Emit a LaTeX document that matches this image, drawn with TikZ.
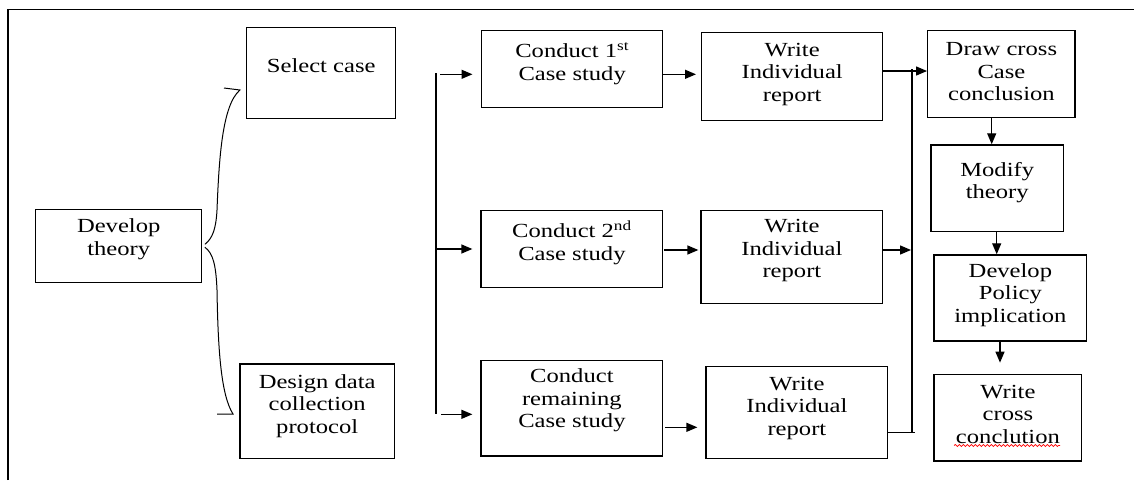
\documentclass[tikz,border=0pt]{standalone}
\usepackage{fontspec}
\setmainfont{Liberation Serif}[FakeStretch=1.23]
\usetikzlibrary{arrows.meta, positioning, decorations.pathmorphing}

\tikzset{
    box/.style={draw, line width=1.4pt, inner sep=0pt},
    txt/.style={align=center, inner sep=0pt, font=\fontsize{20}{22.5}\selectfont},
    ln/.style={line width=1.3pt},
    arr/.style={line width=1.3pt, -{Triangle[length=11pt, width=9pt]}},
    squig/.style={red, line width=0.7pt, decorate, decoration={snake, amplitude=1pt, segment length=4pt}},
}

\begin{document}
\begin{tikzpicture}[x=1pt, y=-1pt]
            \useasboundingbox (0, 0) rectangle (1134, 480);

            % frame
            \draw [line width=1.4pt] (8, 480) -- (8, 9.5) -- (1134, 9.5);

            % boxes
            \node [box, minimum width=166pt, minimum height=73pt] (theory) at (118.7, 245.8) {};
            \node [box, minimum width=149pt, minimum height=91.4pt] (select) at (321.2, 73) {};
            \node [box, minimum width=154.3pt, minimum height=94.3pt] (design) at (317.2, 411.2) {};

            \node [box, minimum width=181pt, minimum height=76.6pt] (study1) at (572.2, 69) {};
            \node [box, minimum width=181.7pt, minimum height=76.6pt] (study2) at (571.9, 249) {};
            \node [box, minimum width=181.7pt, minimum height=95.3pt] (studyR) at (571.9, 408.3) {};

            \node [box, minimum width=181pt, minimum height=88.4pt] (report1) at (792.2, 76.5) {};
            \node [box, minimum width=181.7pt, minimum height=92.6pt] (report2) at (791.9, 257) {};
            \node [box, minimum width=181.7pt, minimum height=91.6pt] (report3) at (796.9, 412.5) {};

            \node [box, minimum width=147.3pt, minimum height=86.6pt] (crossCase) at (1001.4, 74) {};
            \node [box, minimum width=132.3pt, minimum height=86.7pt] (modify) at (997.2, 188.3) {};
            \node [box, minimum width=152.7pt, minimum height=86pt] (policy) at (1010.4, 298) {};
            \node [box, minimum width=147.7pt, minimum height=86.7pt] (crossWrite) at (1007.9, 417.7) {};

            % texts
            \node [txt] (theory-t) at (118.7, 239) {Develop\\theory};
            \node [txt] (select-t) at (321.2, 66) {Select case};
            \node [txt] (design-t) at (317.2, 406) {Design data\\collection\\protocol};
            \node [txt] (study1-t) at (572.2, 63.5) {Conduct 1\textsuperscript{st}\\Case study};
            \node [txt] (study2-t) at (571.9, 242.5) {Conduct 2\textsuperscript{nd}\\Case study};
            \node [txt] (studyR-t) at (571.9, 400.7) {Conduct\\remaining\\Case study};
            \node [txt] (report1-t) at (792.2, 74.2) {Write\\Individual\\report};
            \node [txt] (report2-t) at (791.9, 250.7) {Write\\Individual\\report};
            \node [txt] (report3-t) at (796.9, 408) {Write\\Individual\\report};
            \node [txt] (crossCase-t) at (1001.4, 72) {Draw cross\\Case\\conclusion};
            \node [txt] (modify-t) at (997.2, 182.5) {Modify\\theory};
            \node [txt] (policy-t) at (1010.4, 295) {Develop\\Policy\\implication};
            \node [txt] (crossWrite-t) at (1007.9, 414.4) {Write\\cross\\conclution};
            \draw [squig] (954, 445.5) -- (1060, 445.5);

            % bracket from theory
            \coordinate (selTip) at (240, 90);
            \coordinate (desTip) at (233, 414);
            \draw [line width=1pt]
                ([xshift=2.5pt, yshift=1.5pt]theory.east)
                    .. controls (213, 238) and (216, 228) .. (217, 210)
                    .. controls (219, 160) and (222, 105) .. (selTip)
                    --++ (-16, -2);
            \draw [line width=1pt]
                ([xshift=2.5pt, yshift=-1.5pt]theory.east)
                    .. controls (213, 253) and (216, 265) .. (217, 290)
                    .. controls (218, 350) and (221, 395) .. (desTip)
                    --++ (-16, 0);

            % split to the case studies
            \coordinate (splitTop) at (436, 73);
            \coordinate (splitBot) at (436, 414.3);
            \draw [ln] (splitTop) -- (splitBot);
            \draw [arr, shorten <=4pt, shorten >=8.5pt] (splitTop |- 0, 74.3) -- (study1.west |- 0, 74.3);
            \draw [arr, shorten >=8pt] (splitTop |- 0, 249) -- (study2.west |- 0, 249);
            \draw [arr, shorten <=5pt, shorten >=8pt] (splitBot) -- (studyR.west |- splitBot);

            % case studies to reports
            \draw [arr, shorten >=5pt] (study1.east |- 0, 74.3) -- (report1.west |- 0, 74.3);
            \draw [arr, shorten <=1pt, shorten >=2pt] (study2.east |- 0, 250) -- (report2.west |- 0, 250);
            \draw [arr, shorten <=2pt, shorten >=8pt] (studyR.east |- 0, 427.3) -- (report3.west |- 0, 427.3);

            % join of the reports
            \coordinate (joinTop) at (912, 69);
            \coordinate (joinBot) at (912, 432.7);
            \draw [ln] (joinTop) -- (joinBot);
            \draw [arr] (report1.east |- 0, 71) -- (crossCase.west |- 0, 71);
            \draw [arr, shorten >=1pt] (report2.east |- 0, 250) -- (joinTop |- 0, 250);
            \draw [ln] (report3.east |- joinBot) -- ([xshift=3pt]joinBot);

            % last column
            \draw [arr] (crossCase.south -| 991.7, 0) -- (modify.north -| 991.7, 0);
            \draw [arr] (modify.south -| 996.7, 0) -- (policy.north -| 996.7, 0);
            \draw [arr, shorten >=11pt] (policy.south -| 1000, 0) -- (crossWrite.north -| 1000, 0);
        \end{tikzpicture}
\end{document}
